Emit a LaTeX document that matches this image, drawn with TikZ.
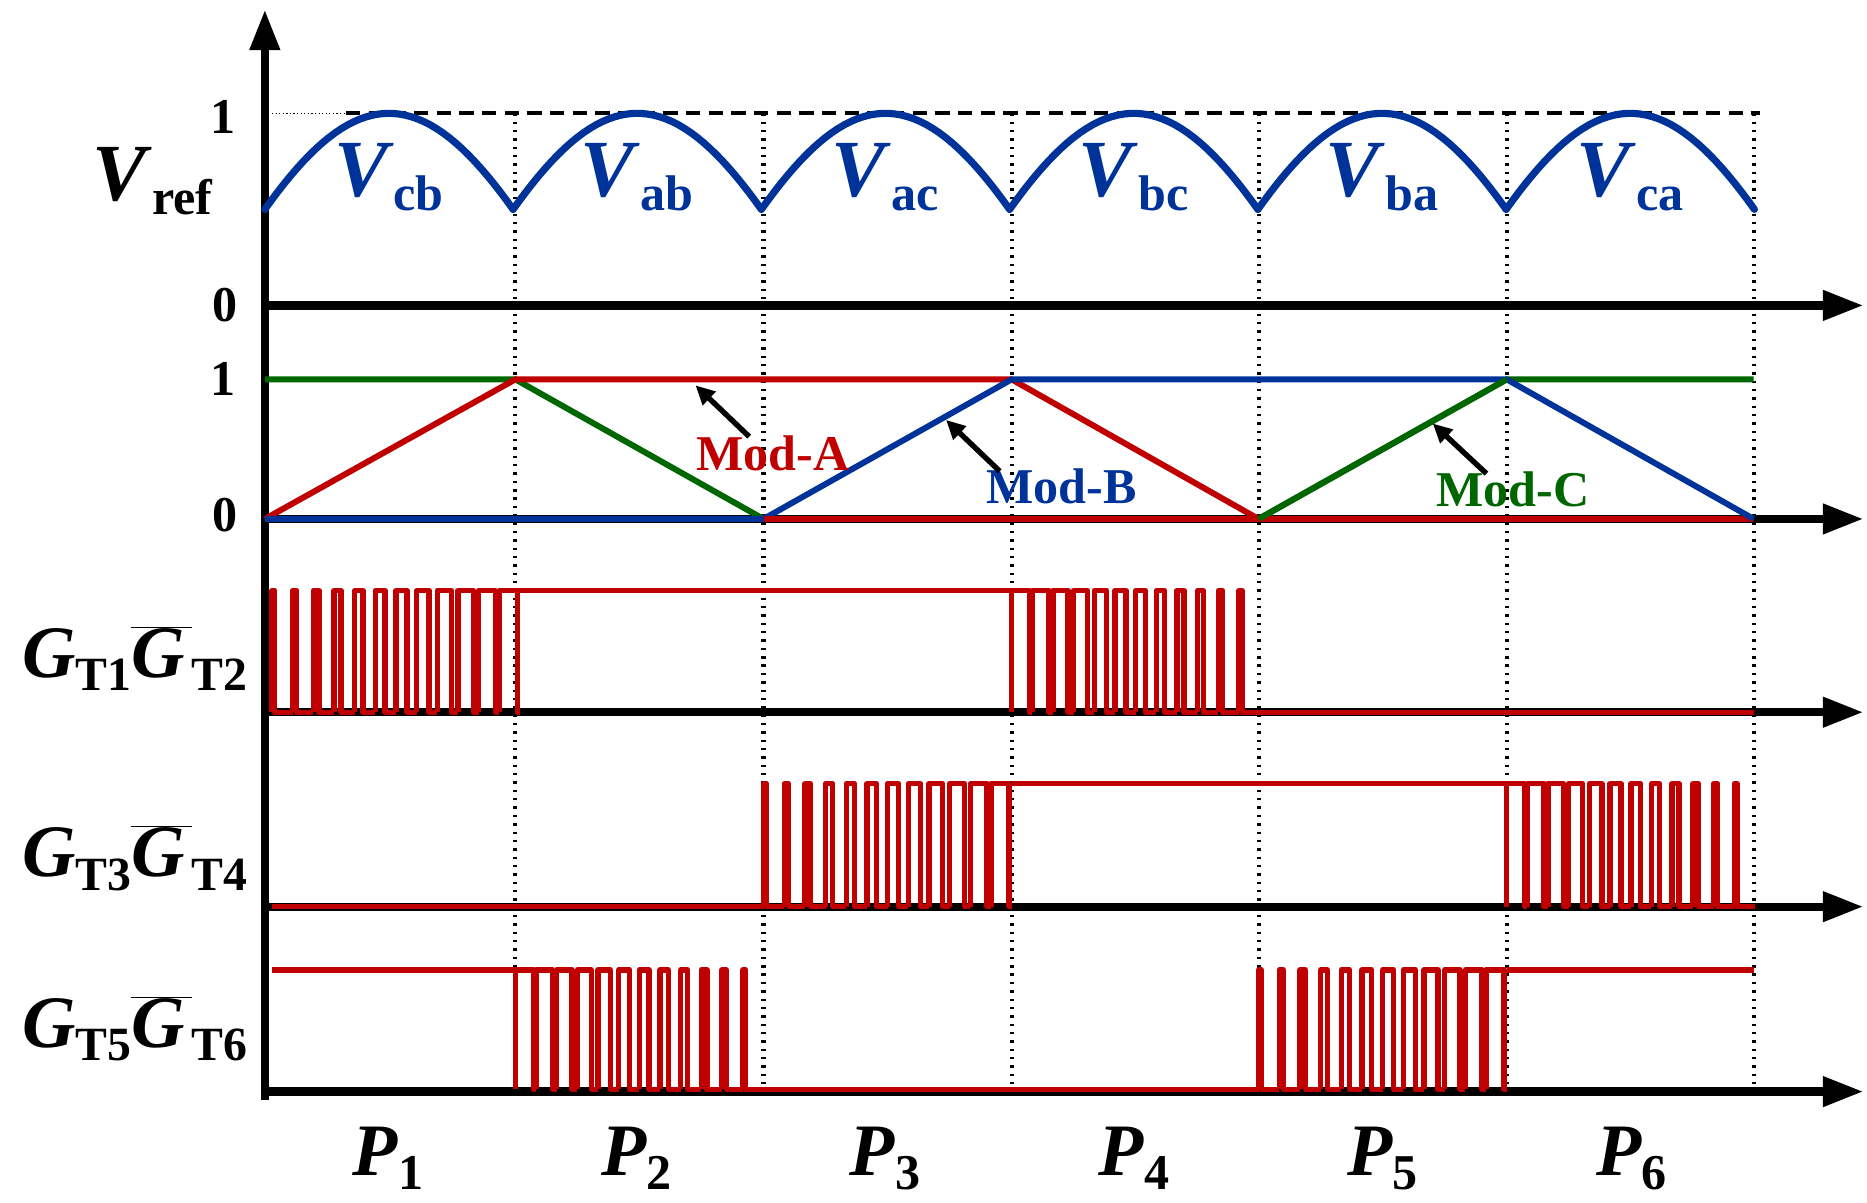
\documentclass[tikz,border=0pt]{standalone}
\usepackage{fontspec}
\setmainfont{Liberation Serif}
\usetikzlibrary{arrows.meta}
\definecolor{cred}{RGB}{192,0,0}
\definecolor{cblue}{RGB}{0,51,153}
\definecolor{cgreen}{RGB}{0,102,0}
\newcommand{\lsub}[2]{{\fontsize{#1}{#1}\selectfont\raisebox{-0.28em}{#2}}}
\newcommand{\Gbar}{$\overline{\hbox{\textit{G}\kern0.1em}}$}
\newcommand{\pwmA}[4]{% x0, yhi, ylo, dir(1 rising,0 falling)
  \foreach \k in {0,...,11}{
    \pgfmathsetmacro{\xa}{#1+\k*208/12}
    \pgfmathsetmacro{\dd}{#4==1 ? 0.1+0.8*(\k+0.5)/12 : 0.9-0.8*(\k+0.5)/12}
    \pgfmathsetmacro{\xb}{\xa+\dd*208/12}
    \pgfmathsetmacro{\xc}{\xa+208/12}
    \draw[sig] (\xa,#3) -- (\xa,#2) -- (\xb,#2) -- (\xb,#3) -- (\xc,#3);
  }}
\begin{document}
\begin{tikzpicture}[x=1pt,y=-1pt,
  ax/.style={line width=7pt,-{Triangle[length=34pt,width=24pt]}},
  sig/.style={cred,line width=4.5pt,line join=round},
  vline/.style={line width=3.5pt,dash pattern=on 2pt off 5pt},
  lab/.style={font=\bfseries\fontsize{42}{42}\selectfont,inner sep=0}]
\useasboundingbox (0,0) rectangle (1565,1007.6);
% vertical dotted lines
\foreach \x in {432,640,848,1055,1263,1470}{\draw[vline] (\x,95) -- (\x,918);}
% dashed 1 level
\draw[line width=1pt,dotted] (228,95) -- (290,95);
\draw[line width=3.5pt,dash pattern=on 12pt off 7pt] (290,95) -- (1475,95);
% axes
\coordinate (o) at (222,922);
\coordinate (top) at (222,8);
\draw[ax] (o) -- (top);
\foreach \y/\n in {256/a,435/b,597/c,760/d,915/e}{
  \coordinate (s\n) at (222,\y); \coordinate (e\n) at (1562,\y);
  \draw[ax] (s\n) -- (e\n);}
% Vref arcs
\foreach \i in {0,...,5}{
  \draw[cblue,line width=6pt,line cap=round] plot[domain=30:150,samples=40,variable=\t]
    ({222+\i*208.1+(\t-30)/120*208.1},{256-161*sin(\t)});}
\foreach \i/\s in {0/cb,1/ab,2/ac,3/bc,4/ba,5/ca}{
  \node[cblue,anchor=base,inner sep=0] at ({326+\i*208.1},165)
   {\fontsize{68}{68}\selectfont\bfseries\textit{V}\lsub{42}{\s}};}
\node[anchor=base,inner sep=0] at (128,168) {\fontsize{68}{68}\selectfont\bfseries\textit{V}\lsub{42}{ref}};
\node[lab] at (187,98) {1};
\node[lab] at (189,256) {0};
\node[lab] at (187,318) {1};
\node[lab] at (189,432) {0};
% modulation
\draw[cgreen,line width=5pt] (222,318) -- (432,318) -- (640,435) -- (1055,435) -- (1263,318) -- (1470,318);
\draw[cred,line width=5pt] (222,435) -- (432,318) -- (848,318) -- (1055,435) -- (1470,435);
\draw[cblue,line width=5pt] (222,435) -- (640,435) -- (848,318) -- (1263,318) -- (1470,435);
\draw[cred,line width=5pt] (640,435) -- (1055,435);
\draw[cgreen,line width=5pt] (1055,435) -- (1263,318);
\node[cred,font=\bfseries\fontsize{42}{42}\selectfont,inner sep=0] (ma) at (648,380) {Mod-A};
\node[cblue,font=\bfseries\fontsize{42}{42}\selectfont,inner sep=0] (mb) at (890,408) {Mod-B};
\node[cgreen,font=\bfseries\fontsize{42}{42}\selectfont,inner sep=0] (mc) at (1268,410) {Mod-C};
\coordinate (ta) at (583,323); \coordinate (tb) at (793,352); \coordinate (tc) at (1201,355);
\draw[line width=4.5pt,-{Triangle[length=16pt,width=15pt]}] (628,366) -- (ta);
\draw[line width=4.5pt,-{Triangle[length=16pt,width=15pt]}] (838,395) -- (tb);
\draw[line width=4.5pt,-{Triangle[length=16pt,width=15pt]}] (1246,397) -- (tc);
% G1
\pwmA{228}{495}{597}{1}
\draw[sig] (432,495) -- (848,495);
\pwmA{848}{495}{597}{0}
\draw[sig] (1055,597) -- (1470,597);
% G3
\draw[sig] (228,760) -- (640,760);
\pwmA{640}{657}{760}{1}
\draw[sig] (848,657) -- (1263,657);
\pwmA{1263}{657}{760}{0}
% G5
\draw[sig] (228,813) -- (432,813);
\pwmA{432}{813}{913}{0}
\draw[sig] (640,913) -- (1055,913);
\pwmA{1055}{813}{913}{1}
\draw[sig] (1263,813) -- (1470,813);
% G labels
\foreach \y/\a/\b in {548/1/2,715/3/4,858/5/6}{
  \node[anchor=base,inner sep=0,font=\bfseries\fontsize{62}{62}\selectfont] at (113,\y+20)
   {\textit{G}\lsub{40}{T\a}\Gbar\lsub{40}{T\b}};}
% P labels
\foreach \i in {1,...,6}{
  \node[anchor=base,inner sep=0] at ({325+(\i-1)*208.5},985) {\fontsize{62}{62}\selectfont\bfseries\textit{P}\lsub{42}{\i}};}
\end{tikzpicture}
\end{document}
